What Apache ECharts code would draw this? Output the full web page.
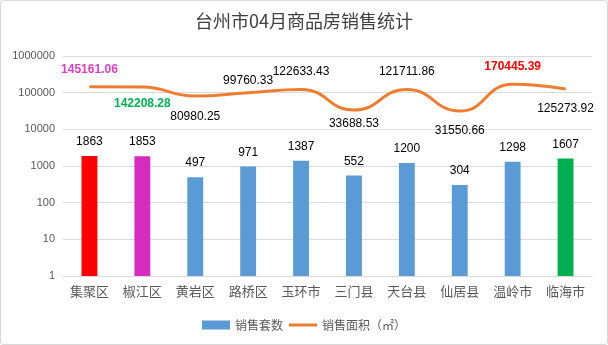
<!DOCTYPE html>
<html>
<head>
<meta charset="utf-8">
<script src="https://cdn.jsdelivr.net/npm/echarts@6/dist/echarts.min.js"></script>
<style>
  html, body { margin: 0; padding: 0; background: #fff; }
  #chart { width: 606px; height: 343px; border: 1px solid #d9d9d9; border-radius: 3px; }
</style>
</head>
<body>
<div id="chart"></div>
<script>
// 台州各区县 4 月商品房销售
const categories = ['集聚区', '椒江区', '黄岩区', '路桥区', '玉环市', '三门县', '天台县', '仙居县', '温岭市', '临海市'];
const salesUnits = [1863, 1853, 497, 971, 1387, 552, 1200, 304, 1298, 1607];
const salesArea = [145161.06, 142208.28, 80980.25, 99760.33, 122633.43, 33688.53, 121711.86, 31550.66, 170445.39, 125273.92];
const yTicks = [1, 10, 100, 1000, 10000, 100000, 1000000];

// 样式：柱色、面积标签的颜色、位置与间距
const barColors = ['#FF0000', '#D62BBF', '#5B9BD5', '#5B9BD5', '#5B9BD5', '#5B9BD5', '#5B9BD5', '#5B9BD5', '#5B9BD5', '#00B050'];
const areaLabelColors = ['#D93FC2', '#00B050', '#000', '#000', '#000', '#000', '#000', '#000', '#FF0000', '#000'];
const areaLabelBold = [true, true, false, false, false, false, false, false, true, false];
const areaLabelPos = ['top', 'bottom', 'bottom', 'top', 'top', 'bottom', 'top', 'bottom', 'top', 'bottom'];
const areaLabelGap = [11, 10, 14, 6, 11, 7, 11, 13, 11, 13];

const FONT = '"Liberation Sans", "Noto Sans CJK SC", sans-serif';
const CJK = '"Noto Sans CJK SC", sans-serif';

const chart = echarts.init(document.getElementById('chart'));
chart.setOption({
  animation: false,
  title: {
    text: '台州市04月商品房销售统计',
    left: 'center',
    top: 6,
    textStyle: { fontFamily: CJK, fontSize: 18, fontWeight: 'normal', color: '#404040' }
  },
  legend: {
    bottom: 8,
    left: 196,
    itemGap: 6,
    itemWidth: 28,
    itemHeight: 9,
    textStyle: { fontFamily: CJK, fontSize: 12, color: '#595959' },
    data: [
      { name: '销售套数', icon: 'rect' },
      { name: '销售面积（㎡）', icon: 'path://M0,0 L28,0 L28,3 L0,3 Z', itemStyle: { color: '#ED7D31', opacity: 1 } }
    ]
  },
  grid: { left: 62, right: 15, top: 55, bottom: 68 },
  xAxis: {
    type: 'category',
    data: categories,
    axisTick: { show: false },
    axisLine: { lineStyle: { color: '#d9d9d9', width: 1 } },
    axisLabel: { fontFamily: CJK, fontSize: 13, color: '#595959', margin: 9 }
  },
  yAxis: {
    type: 'log',
    logBase: 10,
    min: yTicks[0],
    max: yTicks[yTicks.length - 1],
    axisLine: { show: false },
    axisTick: { show: false },
    splitLine: { lineStyle: { color: '#d9d9d9', width: 1 } },
    axisLabel: {
      fontFamily: FONT, fontSize: 11, color: '#595959', margin: 8,
      formatter: v => String(Math.round(v))
    }
  },
  series: [
    {
      name: '销售套数',
      type: 'bar',
      barWidth: '30%',
      itemStyle: { color: '#5B9BD5' },
      data: salesUnits.map((v, i) => ({ value: v, itemStyle: { color: barColors[i] } })),
      label: {
        show: true,
        position: 'top',
        distance: 8,
        fontFamily: FONT,
        fontSize: 12,
        color: '#000'
      }
    },
    {
      name: '销售面积（㎡）',
      type: 'line',
      smooth: 0.5,
      symbol: 'circle',
      symbolSize: 1,
      showSymbol: true,
      lineStyle: { color: '#ED7D31', width: 3 },
      itemStyle: { color: '#ED7D31' },
      data: salesArea.map((v, i) => ({
        value: v,
        label: {
          show: true,
          position: areaLabelPos[i],
          distance: areaLabelGap[i],
          color: areaLabelColors[i],
          fontWeight: areaLabelBold[i] ? 'bold' : 'normal'
        }
      })),
      label: {
        show: true,
        fontFamily: FONT,
        fontSize: 12,
        formatter: p => p.value.toFixed(2)
      }
    }
  ]
});
</script>
</body>
</html>
